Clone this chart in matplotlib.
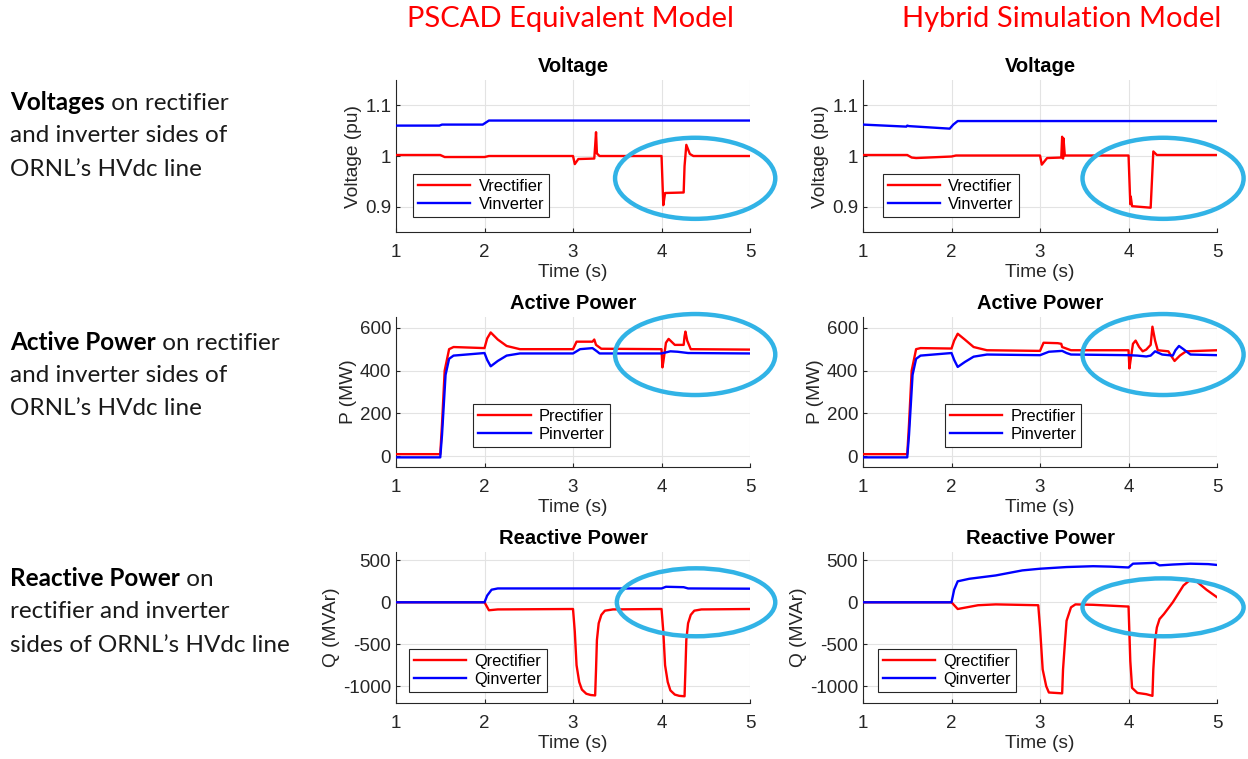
import matplotlib.pyplot as plt
from matplotlib.patches import Ellipse

# ---- values (time in s) ----
# Voltage, PSCAD equivalent model
t_vrect_pscad = [1.0, 1.5, 1.55, 2.0, 2.05, 3.0, 3.02, 3.06, 3.24, 3.25, 3.26, 3.27, 3.30,
                 4.0, 4.02, 4.04, 4.25, 4.26, 4.28, 4.32, 4.36, 5.0]
vrect_pscad = [1.002, 1.002, 0.998, 0.998, 1.0, 1.0, 0.984, 0.994, 0.995, 1.02, 1.047, 1.005, 1.0,
               1.0, 0.903, 0.927, 0.928, 0.98, 1.022, 1.004, 1.0, 1.0]
t_vinv_pscad = [1.0, 1.49, 1.52, 1.98, 2.05, 5.0]
vinv_pscad = [1.06, 1.06, 1.062, 1.062, 1.07, 1.07]

# Voltage, hybrid simulation model
t_vrect_hyb = [1.0, 1.5, 1.55, 1.6, 2.0, 2.05, 3.0, 3.02, 3.08, 3.24, 3.25, 3.26, 3.265, 3.28,
               4.0, 4.02, 4.025, 4.04, 4.25, 4.28, 4.32, 5.0]
vrect_hyb = [1.002, 1.002, 0.997, 0.996, 0.999, 1.001, 1.001, 0.983, 0.996, 0.997, 1.038, 0.995, 1.035, 1.001,
             1.001, 0.905, 0.92, 0.901, 0.898, 1.009, 1.002, 1.002]
t_vinv_hyb = [1.0, 1.49, 1.5, 1.52, 1.98, 2.02, 2.07, 5.0]
vinv_hyb = [1.062, 1.058, 1.060, 1.059, 1.054, 1.062, 1.069, 1.069]

# Active power, PSCAD equivalent model
t_prect_pscad = [1.0, 1.5, 1.52, 1.55, 1.6, 1.65, 2.0, 2.03, 2.07, 2.15, 2.25, 2.4, 3.0, 3.04, 3.22,
                 3.24, 3.26, 3.32, 4.0, 4.01, 4.02, 4.05, 4.08, 4.15, 4.25, 4.26, 4.27, 4.29, 4.33, 5.0]
prect_pscad = [10, 10, 150, 400, 500, 510, 505, 550, 578, 545, 515, 500, 500, 535, 535,
               545, 520, 502, 500, 415, 440, 530, 548, 520, 520, 560, 582, 540, 500, 498]
t_pinv_pscad = [1.0, 1.5, 1.52, 1.56, 1.6, 1.65, 2.0, 2.03, 2.07, 2.15, 2.25, 2.4, 3.0, 3.08, 3.22,
                3.27, 3.3, 4.0, 4.1, 4.18, 4.3, 5.0]
pinv_pscad = [-5, -5, 100, 380, 455, 470, 482, 450, 420, 445, 470, 480, 480, 500, 505,
              490, 480, 480, 490, 488, 482, 480]

# Active power, hybrid simulation model
t_prect_hyb = [1.0, 1.5, 1.52, 1.55, 1.6, 1.65, 2.0, 2.03, 2.07, 2.15, 2.25, 2.4, 3.0, 3.04, 3.2,
               3.24, 3.25, 3.35, 4.0, 4.01, 4.02, 4.05, 4.08, 4.12, 4.16, 4.2, 4.25, 4.27, 4.3,
               4.33, 4.45, 4.48, 4.52, 4.58, 4.65, 5.0]
prect_hyb = [10, 10, 150, 400, 500, 505, 503, 540, 572, 545, 510, 495, 492, 530, 528,
             525, 510, 495, 495, 410, 440, 525, 540, 510, 490, 498, 520, 605, 540,
             495, 490, 470, 445, 470, 490, 495]
t_pinv_hyb = [1.0, 1.5, 1.52, 1.56, 1.6, 1.65, 2.0, 2.03, 2.07, 2.15, 2.25, 2.4, 3.0, 3.1, 3.25,
              3.3, 3.35, 4.0, 4.1, 4.2, 4.25, 4.3, 4.38, 4.5, 4.53, 4.57, 4.62, 4.7, 5.0]
pinv_hyb = [-5, -5, 100, 380, 455, 470, 482, 450, 417, 440, 465, 475, 472, 488, 492,
            482, 475, 472, 470, 466, 470, 490, 475, 470, 495, 515, 500, 475, 472]

# Reactive power, PSCAD equivalent model
t_qrect_pscad = [1.0, 2.0, 2.05, 2.15, 3.0, 3.02, 3.04, 3.07, 3.1, 3.15, 3.2, 3.25, 3.26, 3.27, 3.29,
                 3.32, 3.36, 3.45, 4.0, 4.02, 4.04, 4.07, 4.1, 4.15, 4.2, 4.26, 4.27, 4.28, 4.3,
                 4.33, 4.37, 4.45, 5.0]
qrect_pscad = [0, 0, -95, -85, -80, -350, -750, -950, -1040, -1090, -1105, -1110, -800, -450, -250,
               -150, -100, -85, -80, -350, -750, -950, -1050, -1100, -1115, -1120, -800, -450, -250,
               -150, -100, -85, -80]
t_qinv_pscad = [1.0, 2.0, 2.03, 2.08, 2.15, 4.0, 4.05, 4.25, 4.3, 5.0]
qinv_pscad = [0, 0, 80, 150, 165, 165, 185, 180, 165, 162]

# Reactive power, hybrid simulation model
t_qrect_hyb = [1.0, 2.0, 2.07, 2.3, 2.5, 2.98, 3.0, 3.03, 3.07, 3.1, 3.25, 3.26, 3.28, 3.3, 3.35,
               3.4, 3.6, 3.98, 4.0, 4.02, 4.04, 4.1, 4.2, 4.27, 4.28, 4.3, 4.32, 4.35, 4.4, 4.5,
               4.62, 4.7, 4.75, 4.88, 5.0]
qrect_hyb = [0, 0, -80, -35, -25, -35, -300, -800, -1000, -1075, -1085, -800, -500, -220, -60,
             -25, -30, -50, -50, -700, -1020, -1080, -1095, -1115, -800, -450, -300, -200, -140, 0,
             200, 270, 265, 150, 60]
t_qinv_hyb = [1.0, 2.0, 2.03, 2.07, 2.2, 2.5, 2.8, 3.0, 3.3, 3.6, 3.8, 4.0, 4.05, 4.3, 4.35,
              4.5, 4.7, 4.9, 5.0]
qinv_hyb = [0, 0, 150, 250, 280, 320, 380, 400, 420, 430, 425, 415, 460, 470, 440,
            450, 460, 455, 445]

column_titles = ["PSCAD Equivalent Model", "Hybrid Simulation Model"]
row_bold = ["Voltages", "Active Power", "Reactive Power"]
row_lines = [
    [" on rectifier", "and inverter sides of", "ORNL\u2019s HVdc line"],
    [" on rectifier", "and inverter sides of", "ORNL\u2019s HVdc line"],
    [" on", "rectifier and inverter", "sides of ORNL\u2019s HVdc line"],
]

RED = "#ff0000"
BLUE = "#0000ff"
CYAN = "#31b3e6"
DARK = "#262626"
SIDE_FONT = ["Lato", "DejaVu Sans"]

plt.rcParams["font.family"] = ["Liberation Sans", "DejaVu Sans"]

fig = plt.figure(figsize=(12.48, 7.59), dpi=100)

col_left = [0.3173, 0.6915]
row_bottom = [0.6943, 0.3847, 0.0738]
row_height = [0.2003, 0.1976, 0.1990]
width = 0.2837

rows = [
    dict(title="Voltage", ylabel="Voltage (pu)", ylim=(0.85, 1.15),
         yticks=[0.9, 1.0, 1.1], yticklabels=["0.9", "1", "1.1"],
         names=("Vrectifier", "Vinverter"),
         data=[((t_vrect_pscad, vrect_pscad), (t_vinv_pscad, vinv_pscad)),
               ((t_vrect_hyb, vrect_hyb), (t_vinv_hyb, vinv_hyb))],
         legend=[(0.048, 0.099), (0.056, 0.099)],
         ellipse=[(4.38, 0.956, 1.81, 0.16), (4.39, 0.956, 1.82, 0.16)]),
    dict(title="Active Power", ylabel="P (MW)", ylim=(-50, 650),
         yticks=[0, 200, 400, 600], yticklabels=["0", "200", "400", "600"],
         names=("Prectifier", "Pinverter"),
         data=[((t_prect_pscad, prect_pscad), (t_pinv_pscad, pinv_pscad)),
               ((t_prect_hyb, prect_hyb), (t_pinv_hyb, pinv_hyb))],
         legend=[(0.218, 0.133), (0.232, 0.133)],
         ellipse=[(4.38, 475, 1.81, 378), (4.39, 475, 1.82, 378)]),
    dict(title="Reactive Power", ylabel="Q (MVAr)", ylim=(-1200, 600),
         yticks=[-1000, -500, 0, 500], yticklabels=["-1000", "-500", "0", "500"],
         names=("Qrectifier", "Qinverter"),
         data=[((t_qrect_pscad, qrect_pscad), (t_qinv_pscad, qinv_pscad)),
               ((t_qrect_hyb, qrect_hyb), (t_qinv_hyb, qinv_hyb))],
         legend=[(0.037, 0.073), (0.042, 0.073)],
         ellipse=[(4.39, 0, 1.79, 810), (4.39, -60, 1.82, 690)]),
]

for r, spec in enumerate(rows):
    for c in range(2):
        ax = fig.add_axes([col_left[c], row_bottom[r], width, row_height[r]])
        (tr, yr), (ti, yi) = spec["data"][c]
        ax.plot(tr, yr, color=RED, lw=1.7, label=spec["names"][0], zorder=3)
        ax.plot(ti, yi, color=BLUE, lw=1.7, label=spec["names"][1], zorder=3)
        ax.set_xlim(1, 5)
        ax.set_ylim(*spec["ylim"])
        ax.set_xticks([1, 2, 3, 4, 5])
        ax.set_yticks(spec["yticks"])
        ax.set_yticklabels(spec["yticklabels"])
        ax.grid(True, color="#e3e3e3", lw=0.8)
        ax.set_axisbelow(True)
        for side in ("top", "right"):
            ax.spines[side].set_visible(False)
        for side in ("left", "bottom"):
            ax.spines[side].set_color(DARK)
            ax.spines[side].set_linewidth(0.8)
        ax.tick_params(direction="in", length=3, width=0.8, colors=DARK,
                       labelsize=13.5, labelcolor=DARK)
        ax.tick_params(axis="x", pad=8.5)
        ax.set_title(spec["title"], fontsize=14.5, fontweight="bold", color="black", pad=6)
        ax.set_xlabel("Time (s)", fontsize=13.8, color=DARK, labelpad=2)
        ax.set_ylabel(spec["ylabel"], fontsize=13.8, color=DARK, labelpad=2)
        leg = ax.legend(loc="lower left", bbox_to_anchor=spec["legend"][c], fontsize=11.8,
                        handlelength=3.2, frameon=True, fancybox=False, framealpha=1,
                        borderaxespad=0, borderpad=0.3, labelspacing=0.2, handletextpad=0.5)
        leg.get_frame().set_edgecolor(DARK)
        leg.get_frame().set_linewidth(0.8)
        ex, ey, ew, eh = spec["ellipse"][c]
        ax.add_patch(Ellipse((ex, ey), ew, eh, fill=False, edgecolor=CYAN, lw=3.2,
                             clip_on=False, zorder=5))

# column headers
header_x = [570 / 1248, 1062 / 1248]
for c, txt in enumerate(column_titles):
    fig.text(header_x[c], 1 - 19 / 759, txt, color=RED, fontsize=21, ha="center",
             va="center", family=SIDE_FONT)

# row descriptions on the left: bold lead words, then plain text
row_first_y = [102, 342, 578]
for r in range(3):
    y0 = 1 - row_first_y[r] / 759
    bold = fig.text(10 / 1248, y0, row_bold[r], fontsize=17.5, fontweight="bold",
                    ha="left", va="center", family=SIDE_FONT)
    plt.annotate(row_lines[r][0], xy=(1, 0), xycoords=bold, ha="left", va="bottom",
                 fontsize=17.5, family=SIDE_FONT, color="#1a1a1a", annotation_clip=False)
    for k in range(1, 3):
        fig.text(10 / 1248, 1 - (row_first_y[r] + 33.5 * k) / 759, row_lines[r][k],
                 fontsize=17.5, ha="left", va="center", family=SIDE_FONT, color="#1a1a1a")

fig.savefig("out.png", dpi=100)
